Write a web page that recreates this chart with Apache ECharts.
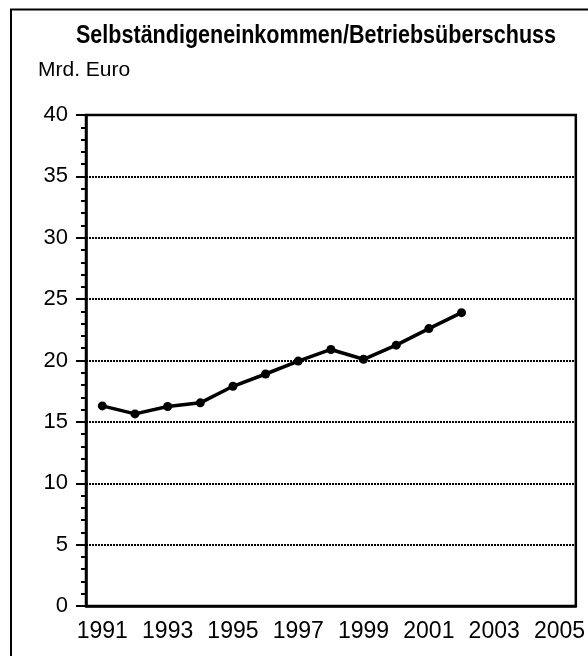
<!DOCTYPE html>
<html>
<head>
<meta charset="utf-8">
<script src="https://cdn.jsdelivr.net/npm/echarts@6/dist/echarts.min.js"></script>
<style>html,body{margin:0;padding:0;background:#fff}#c{width:588px;height:656px}</style>
</head>
<body>
<div id="c"></div>
<script>
const titleText = 'Selbständigeneinkommen/Betriebsüberschuss';
const unitText = 'Mrd. Euro';
const years = ['1991','1992','1993','1994','1995','1996','1997','1998','1999','2000','2001','2002','2003','2004','2005'];
const values = [16.3, 15.65, 16.25, 16.55, 17.9, 18.9, 19.95, 20.9, 20.1, 21.25, 22.6, 23.9];
const yMin = 0, yMax = 40, yStep = 5;

const FONT = "'Liberation Sans', Arial, sans-serif";
const titleFont = "bold 25px " + FONT;
const titleWidth = 480;
const mctx = document.createElement('canvas').getContext('2d');
mctx.font = titleFont;
const titleScale = titleWidth / mctx.measureText(titleText).width;

const chart = echarts.init(document.getElementById('c'), null, {renderer: 'canvas'});
chart.setOption({
  animation: false,
  backgroundColor: '#fff',
  graphic: [
    {type: 'rect', shape: {x: 11, y: 9.5, width: 700, height: 800}, style: {fill: 'none', stroke: '#000', lineWidth: 2}, z: 100},
    {type: 'text', x: 76, y: 24, scaleX: titleScale, originX: 0, style: {x: 0, y: 0, text: titleText, font: titleFont, fill: '#000', verticalAlign: 'top'}},
    {type: 'text', x: 38, y: 60, style: {x: 0, y: 0, text: unitText, font: "21px " + FONT, fill: '#000', verticalAlign: 'top'}}
  ],
  grid: {left: 86, top: 115, right: 10, bottom: 50, show: true, borderColor: '#000', borderWidth: 2.5, backgroundColor: 'transparent'},
  xAxis: {
    type: 'category',
    data: years,
    boundaryGap: true,
    axisLine: {lineStyle: {color: '#000', width: 2.5}},
    axisTick: {alignWithLabel: true, interval: 0, length: 10, lineStyle: {color: '#000', width: 2}},
    axisLabel: {interval: 1, color: '#000', fontFamily: FONT, fontSize: 23, margin: 14},
    splitLine: {show: false}
  },
  yAxis: {
    type: 'value',
    min: yMin, max: yMax, interval: yStep,
    axisLine: {show: true, lineStyle: {color: '#000', width: 2.5}},
    axisTick: {show: true, length: 10, lineStyle: {color: '#000', width: 2}},
    minorTick: {show: true, splitNumber: 5, length: 5, lineStyle: {color: '#000', width: 2}},
    axisLabel: {color: '#000', fontFamily: FONT, fontSize: 22, margin: 18},
    splitLine: {show: true, lineStyle: {color: '#000', width: 2, type: [2, 1]}}
  },
  series: [{
    type: 'line',
    data: values,
    symbol: 'circle',
    symbolSize: 9,
    lineStyle: {color: '#000', width: 3.5},
    itemStyle: {color: '#000'},
    z: 10
  }]
});
</script>
</body>
</html>
